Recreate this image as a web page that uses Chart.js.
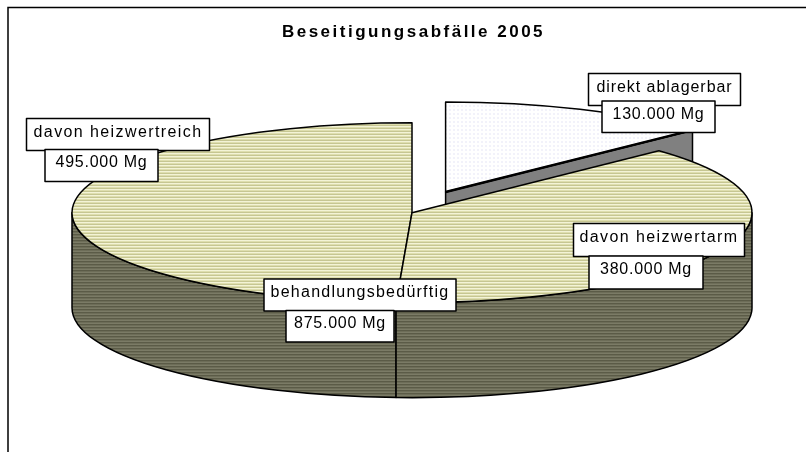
<!DOCTYPE html>
<html>
<head>
<meta charset="utf-8">
<style>
    html, body { margin: 0; padding: 0; background: #fff; }
    #wrap { width: 806px; height: 452px; }
</style>
<script src="https://cdn.jsdelivr.net/npm/chart.js@4/dist/chart.umd.min.js"></script>
</head>
<body>
<div id="wrap"><canvas id="pieChart" width="806" height="452"></canvas></div>
<script>
// Chart data
const titleText = 'Beseitigungsabfälle 2005';
const categories = ['direkt ablagerbar', 'davon heizwertarm', 'davon heizwertreich'];
const valuesMg = [130000, 380000, 495000];
const summaryLabel = 'behandlungsbedürftig';
const summaryMg = [875000];

// Where the flat pie is projected to
const CX = 412, CY = 212.7, RX = 340, RY = 90, DEPTH = 95;
const PIE_RADIUS = 150;
const FONT = '"Liberation Sans", Arial, sans-serif';

// Label boxes: name box then value box, [x, y, w, h]
const labelBoxes = [
    { name: [588.5, 73.5, 152, 32], value: [602, 101, 113, 31.5], spacing: 0.95 },
    { name: [573.5, 223.5, 171, 33], value: [589, 256, 114, 33], spacing: 1.4 },
    { name: [26.5, 118.5, 183, 32], value: [45, 149.5, 113, 32], spacing: 1.4 }
];
const summaryBox = { name: [264, 279, 192, 32], value: [286, 310.5, 108, 31.5], spacing: 1.25 };

function stripes(rows) {
    const c = document.createElement('canvas');
    c.width = 1;
    c.height = rows.length;
    const g = c.getContext('2d');
    rows.forEach((col, i) => {
        g.fillStyle = col;
        g.fillRect(0, i, 1, 1);
    });
    return g.createPattern(c, 'repeat');
}

function dots(bg, dot) {
    const c = document.createElement('canvas');
    c.width = 4;
    c.height = 4;
    const g = c.getContext('2d');
    g.fillStyle = bg;
    g.fillRect(0, 0, 4, 4);
    g.fillStyle = dot;
    g.fillRect(1, 1, 2, 2);
    return g.createPattern(c, 'repeat');
}

const topStripes = stripes(['#f3f3d6', '#dedeae', '#c6c692']);
const wallStripes = stripes(['#5b5b47', '#6d6d58', '#7b7b66']);
const topDots = dots('#ffffff', '#f2f2fa');

function fmt(v) {
    return v.toLocaleString('de-DE') + ' Mg';
}

function drawBox(ctx, rect, text, spacing, lift) {
    const [x, y, w, h] = rect;
    ctx.fillStyle = '#fff';
    ctx.fillRect(x, y, w, h);
    ctx.strokeStyle = '#000';
    ctx.lineWidth = 1.5;
    ctx.strokeRect(x, y, w, h);
    ctx.fillStyle = '#000';
    ctx.font = '16px ' + FONT;
    ctx.letterSpacing = spacing + 'px';
    ctx.textAlign = 'center';
    ctx.textBaseline = 'middle';
    ctx.fillText(text, x + w / 2, y + h / 2 + 0.5 - lift);
}

function drawLabel(ctx, box, name, value) {
    drawBox(ctx, box.name, name, box.spacing, 2.5);
    drawBox(ctx, box.value, fmt(value), 0.75, 3);
}

// Draws the arcs of the chart as a tilted 3D pie
const pie3dPlugin = {
    id: 'pie3d',
    beforeDraw(chart) {
        const ctx = chart.ctx;
        ctx.strokeStyle = '#000';
        ctx.lineWidth = 1.5;
        ctx.beginPath();
        ctx.moveTo(8, 452);
        ctx.lineTo(8, 7.5);
        ctx.lineTo(806, 7.5);
        ctx.stroke();
        ctx.letterSpacing = '2.5px';
    },
    beforeDatasetsDraw(chart) {
        const ctx = chart.ctx;
        const arcs = chart.getDatasetMeta(0).data;
        ctx.save();
        ctx.letterSpacing = '0px';
        ctx.strokeStyle = '#000';
        ctx.lineJoin = 'round';

        // back slice first, the big front slices over it
        [0, 2, 1].forEach(i => {
            const arc = arcs[i];
            const scaleX = RX / arc.outerRadius, scaleY = RY / arc.outerRadius;
            const mid = (arc.startAngle + arc.endAngle) / 2;
            const shift = (arc.options.offset || 0) / 4;
            const x = CX + Math.cos(mid) * shift * scaleX;
            const y = CY + Math.sin(mid) * shift * scaleY;
            const t0 = arc.startAngle, t1 = arc.endAngle;
            ctx.lineWidth = 1.5;

            // cut face of the pulled out slice
            if (shift > 0) {
                const ex = x + Math.cos(t1) * RX, ey = y + Math.sin(t1) * RY;
                ctx.beginPath();
                ctx.moveTo(x, y);
                ctx.lineTo(ex, ey);
                ctx.lineTo(ex, ey + DEPTH);
                ctx.lineTo(x, y + DEPTH);
                ctx.closePath();
                ctx.fillStyle = '#808080';
                ctx.fill();
                ctx.stroke();
            }

            // outer wall, only the front half can be seen
            const w0 = Math.max(t0, 0), w1 = Math.min(t1, Math.PI);
            if (w1 > w0) {
                ctx.beginPath();
                ctx.ellipse(x, y, RX, RY, 0, w0, w1);
                ctx.ellipse(x, y + DEPTH, RX, RY, 0, w1, w0, true);
                ctx.closePath();
                ctx.fillStyle = wallStripes;
                ctx.fill();
                ctx.stroke();
            }

            // top face
            ctx.beginPath();
            ctx.moveTo(x, y);
            ctx.ellipse(x, y, RX, RY, 0, t0, t1);
            ctx.closePath();
            ctx.fillStyle = arc.options.backgroundColor;
            ctx.fill();
            ctx.stroke();

            if (shift > 0) {
                ctx.lineWidth = 2.5;
                ctx.beginPath();
                ctx.moveTo(x, y);
                ctx.lineTo(x + Math.cos(t1) * RX, y + Math.sin(t1) * RY);
                ctx.stroke();
            }
        });

        categories.forEach((name, i) => drawLabel(ctx, labelBoxes[i], name, valuesMg[i]));
        drawLabel(ctx, summaryBox, summaryLabel, summaryMg[0]);
        ctx.restore();
        return false;
    }
};

const chart = new Chart(document.getElementById('pieChart'), {
    type: 'pie',
    data: {
        labels: categories,
        datasets: [{
            data: valuesMg,
            backgroundColor: [topDots, topStripes, topStripes],
            offset: [PIE_RADIUS, 0, 0],
            borderWidth: 0
        }]
    },
    options: {
        responsive: false,
        animation: false,
        radius: PIE_RADIUS,
        rotation: 0,
        layout: { padding: { left: 21 } },
        plugins: {
            legend: { display: false },
            tooltip: { enabled: false },
            title: {
                display: true,
                text: titleText,
                color: '#000',
                font: { family: FONT, size: 17, weight: 'bold' },
                padding: { top: 22, bottom: 10 }
            }
        }
    },
    plugins: [pie3dPlugin]
});
</script>
</body>
</html>
